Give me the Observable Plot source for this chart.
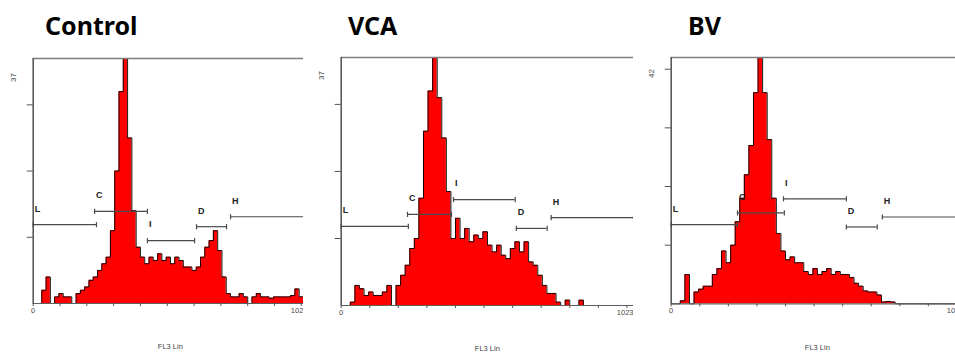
<!DOCTYPE html>
<html><head><meta charset="utf-8">
<script src="https://cdn.jsdelivr.net/npm/d3@7"></script>
<script src="https://cdn.jsdelivr.net/npm/@observablehq/plot@0.6"></script>
<style>
body{margin:0;background:#fff;}
#wrap{position:relative;width:955px;height:353px;overflow:hidden;background:#fff;}
.panel{position:absolute;top:0;height:353px;overflow:hidden;}
.title{position:absolute;top:13px;font-family:"Noto Sans",sans-serif;font-weight:bold;font-size:25px;line-height:25px;color:#000;white-space:nowrap;}
</style></head><body><div id="wrap"></div>
<script>
// FL3 channel bins (start of each 16-channel bin)
const channels = [0,16,32,48,64,80,96,112,128,144,160,176,192,208,224,240,256,272,288,304,320,336,352,368,384,400,416,432,448,464,480,496,512,528,544,560,576,592,608,624,640,656,672,688,704,720,736,752,768,784,800,816,832,848,864,880,896,912,928,944,960,976,992,1008];

const titles = ["Control", "VCA", "BV"];
const yMaxLabels = ["37", "37", "42"];
const yMax = [37, 37, 42];
const yTicks = [[10,20,30],[10,20,30],[10,20,30,40]];
const xTicks = [0,100,200,300,400,500,600,700,800,900,1000];
const xTickLabels = ["0", "1023"];
const xLabel = "FL3 Lin";

const controlCounts = [0,0,2,4,0,1,1.5,1,1,0,1.5,2,2.5,3.5,4,5,6,7,11,20,32,37,25,14,8.5,7,6,7,6.5,7.5,6.5,7,6,7,6.5,5.5,5.5,5,5.5,7,8.5,9.5,11,8,4,1.5,1,1,1.5,1,0,1,1.5,1,1,0.8,1,1,1,1,1.2,2.2,1,1];
const vcaCounts = [0,0,0.5,3,2.5,1.5,2,1.5,1.5,2,3,0,3,4.5,6,8.5,10,16,26,32,37,31,25,17,10,13,10,11.5,9.5,10.5,10,11,9,8,9,7.5,7,8.5,9.5,8,9.5,6.5,6,4.5,3,1.8,1.8,0.5,0,0.8,0,0,0.8,0,0,0,0,0,0,0,0,0,0,0];
const bvCounts = [0,0,0.5,5,0,2,2.5,3,3,5,6,9,7,10,14,18,22,27,36,42,36,28,18,12,9,7.5,8,7,7,5.5,5,6,5,5.5,6,5,5.5,5,5,4.5,3.5,3,2.2,2,2,1.5,0.3,0.4,0.3,0,0,0,0,0,0,0,0,0,0,0,0,0,0,0];

// Gate markers: name, start channel, end channel, level (counts)
const gateNames = ["L","C","I","D","H"];
const controlGates = {x1:[0,229,426,609,736], x2:[236,426,602,721,1023], level:[11.9,13.9,9.5,11.6,13.1]};
const vcaGates     = {x1:[0,232,393,613,735], x2:[235,386,609,721,1023], level:[11.8,13.6,15.8,11.5,13.1]};
const bvGates      = {x1:[0,232,393,613,739], x2:[232,396,613,721,1023], level:[13.5,15.5,17.9,13.1,14.8]};

const counts = [controlCounts, vcaCounts, bvCounts];
const gates = [controlGates, vcaGates, bvGates];

// layout (pixels)
const layout = [
  {left:0,   clip:303, svgW:307, ml:32.7, mt:58, mb:50,   titleX:45, labDy:19},
  {left:303, clip:330, svgW:330, ml:37.7, mt:57, mb:48,   titleX:45, labDy:18},
  {left:633, clip:322, svgW:330, ml:37.7, mt:57, mb:49.7, titleX:55, labDy:16}
];

const vbar = {draw(ctx, size){ const r = Math.sqrt(size/Math.PI); ctx.moveTo(0,-r); ctx.lineTo(0,r); }};
const wrap = document.getElementById("wrap");
const font = "'Liberation Sans', Arial, sans-serif";

for (let p = 0; p < 3; p++) {
  const L = layout[p];
  const rows = channels.map((c,i)=>({x:c, y:counts[p][i]}));
  rows.push({x:1024, y:counts[p][counts[p].length-1]});
  const g = gates[p];
  const gateRows = gateNames.map((n,i)=>({name:n, x1:g.x1[i], x2:g.x2[i], level:g.level[i]}));
  const caps = gateRows.flatMap(d=>[{x:d.x1, y:d.level},{x:d.x2, y:d.level}]);

  const svg = Plot.plot({
    width: L.svgW, height: 353,
    marginLeft: L.ml, marginRight: 0, marginTop: L.mt, marginBottom: L.mb,
    x: {domain:[0,1023]},
    y: {domain:[0,yMax[p]]},
    style: {background:"white", fontFamily: font, maxWidth:"none"},
    marks: [
      Plot.areaY(rows, {x:"x", y:"y", curve:"step-after", fill:"#ff0000"}),
      Plot.lineY(rows, {x:"x", y:"y", curve:"step-after", stroke:"#000", strokeWidth:0.9}),
      Plot.ruleX([1023], {stroke:"#c8c8c8", strokeWidth:1}),
      Plot.ruleY([yMax[p]], {stroke:"#7d7d7d", strokeWidth:1.6}),
      Plot.ruleY([0], {stroke:"#606060", strokeWidth:1.2}),
      Plot.ruleX([0], {stroke:"#5a5a5a", strokeWidth:1.6}),
      Plot.axisX({ticks:xTicks, tickSize:3, tickFormat:()=>"", label:null, stroke:"#555"}),
      Plot.axisY({ticks:yTicks[p], tickSize:6, tickFormat:()=>"", label:null, stroke:"#555"}),
      Plot.ruleY(gateRows, {y:"level", x1:"x1", x2:"x2", stroke:"#4a4a4a", strokeWidth:1.2}),
      Plot.dot(caps, {x:"x", y:"y", symbol:vbar, r:2.6, stroke:"#4a4a4a", strokeWidth:1.2, fill:"none"}),
      Plot.text(gateRows, {x:"x1", y:"level", text:"name", dx:1.5, dy:-16, textAnchor:"start", fontWeight:"bold", fontSize:9, fill:"#222"}),
      Plot.text([yMaxLabels[p]], {x:0, frameAnchor:"top", lineAnchor:"middle", dx:-20, dy:L.labDy, rotate:-90, fontSize:8, fill:"#444"}),
      Plot.text([xTickLabels[0]], {x:0, frameAnchor:"bottom", lineAnchor:"middle", dy:7, fontSize:7.5, fill:"#444"}),
      Plot.text([xTickLabels[1]], {x:1023, frameAnchor:"bottom", lineAnchor:"middle", dy:7, textAnchor:"end", fontSize:7.5, fill:"#444"}),
      Plot.text([xLabel], {x:511.5, frameAnchor:"bottom", lineAnchor:"middle", dy:43.5, fontSize:7.5, fill:"#444"})
    ]
  });
  svg.style.maxWidth = "none";
  const div = document.createElement("div");
  div.className = "panel";
  div.style.left = L.left + "px";
  div.style.width = L.clip + "px";
  div.appendChild(svg);
  const t = document.createElement("div");
  t.className = "title";
  t.style.left = L.titleX + "px";
  t.textContent = titles[p];
  div.appendChild(t);
  wrap.appendChild(div);
}
</script>
</body></html>
